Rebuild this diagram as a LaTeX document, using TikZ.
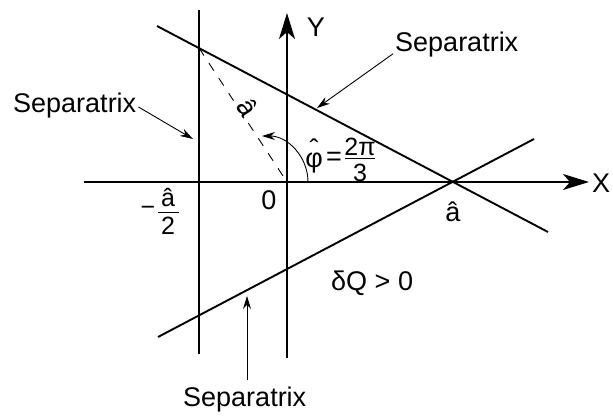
\documentclass[tikz,border=0pt]{standalone}
\usepackage{fontspec}
\setmainfont{Liberation Sans}
\usetikzlibrary{arrows.meta}
\begin{document}
\begin{tikzpicture}[x=1pt,y=-1pt,
  mainline/.style={line width=1.9pt},
  axisline/.style={line width=1.9pt,-{Stealth[length=26pt,width=16pt,inset=7pt]}},
  pointer/.style={line width=0.9pt,-{Stealth[length=13pt,width=8pt]}},
  dashline/.style={line width=0.9pt,dash pattern=on 9pt off 9pt},
  lbl/.style={font=\fontsize{27}{30}\selectfont, inner sep=0pt},
  small/.style={font=\fontsize{25}{28}\selectfont, inner sep=0pt}]
\useasboundingbox (0,0) rectangle (613,417);

% key points
\coordinate (O) at (287,182);
\coordinate (A) at (453,182);
\coordinate (P) at (199,48);
\coordinate (Q) at (199,316);

% axes
\coordinate (xs) at (84,182);
\coordinate (xe) at (589,182);
\coordinate (ys) at (287,358);
\coordinate (ye) at (287,13);
\draw[axisline] (xs) -- (xe);
\draw[axisline] (ys) -- (ye);
\node[lbl] (X) at (601,183) {X};
\node[lbl] (Y) at (316,27) {Y};

% separatrices
\coordinate (u1) at (157,26);
\coordinate (u2) at (548,232);
\coordinate (l1) at (158,337);
\coordinate (l2) at (534,139);
\coordinate (v1) at (199,10);
\coordinate (v2) at (199,354);
\draw[mainline] (u1) -- (u2);
\draw[mainline] (l1) -- (l2);
\draw[mainline] (v1) -- (v2);

% dashed radius
\draw[dashline] (P) -- (O);
\node[lbl, rotate=-57] (ahat) at (248,108) {â};

% angle arc
\coordinate (arcs) at (308,182);
\draw[pointer] (arcs) arc[start angle=0, end angle=-90, radius=46];
\node[lbl] (phi) at (314,160) {\ooalign{φ\cr\hidewidth\raisebox{9pt}{ˆ}\hidewidth\cr}};
\node[lbl] (eq) at (334,159) {=};
\node[small] (num) at (360,147) {2π};
\node[small] (den) at (360,173) {3};
\draw[line width=0.9pt] (345,158) -- (375,158);

% labels on axes
\node[lbl] (zero) at (269,200) {0};
\node[lbl] (ahatA) at (453,212) {â};
\node[small] (minus) at (148,211) {−};
\node[small] (nfrac) at (168,198) {â};
\node[small] (dfrac) at (168,226) {2};
\draw[line width=0.9pt] (158,212) -- (179,212);

\node[lbl, anchor=base west] (dq) at (331,290) {δQ > 0};

% Separatrix labels
\node[lbl, anchor=base west] (s1) at (395,52) {Separatrix};
\node[lbl, anchor=base west] (s2) at (13,113) {Separatrix};
\node[lbl, anchor=base west] (s3) at (183,406) {Separatrix};
\coordinate (t1) at (317,108);
\coordinate (t2) at (193,139);
\coordinate (t3) at (247,296);
\draw[pointer] (s1.south west) ++(-2,-4) -- (t1);
\draw[pointer] (s2.base east) ++(2,-6) -- (t2);
\draw[pointer] (s3.north west) ++(64,-6) -- (t3);
\end{tikzpicture}
\end{document}
